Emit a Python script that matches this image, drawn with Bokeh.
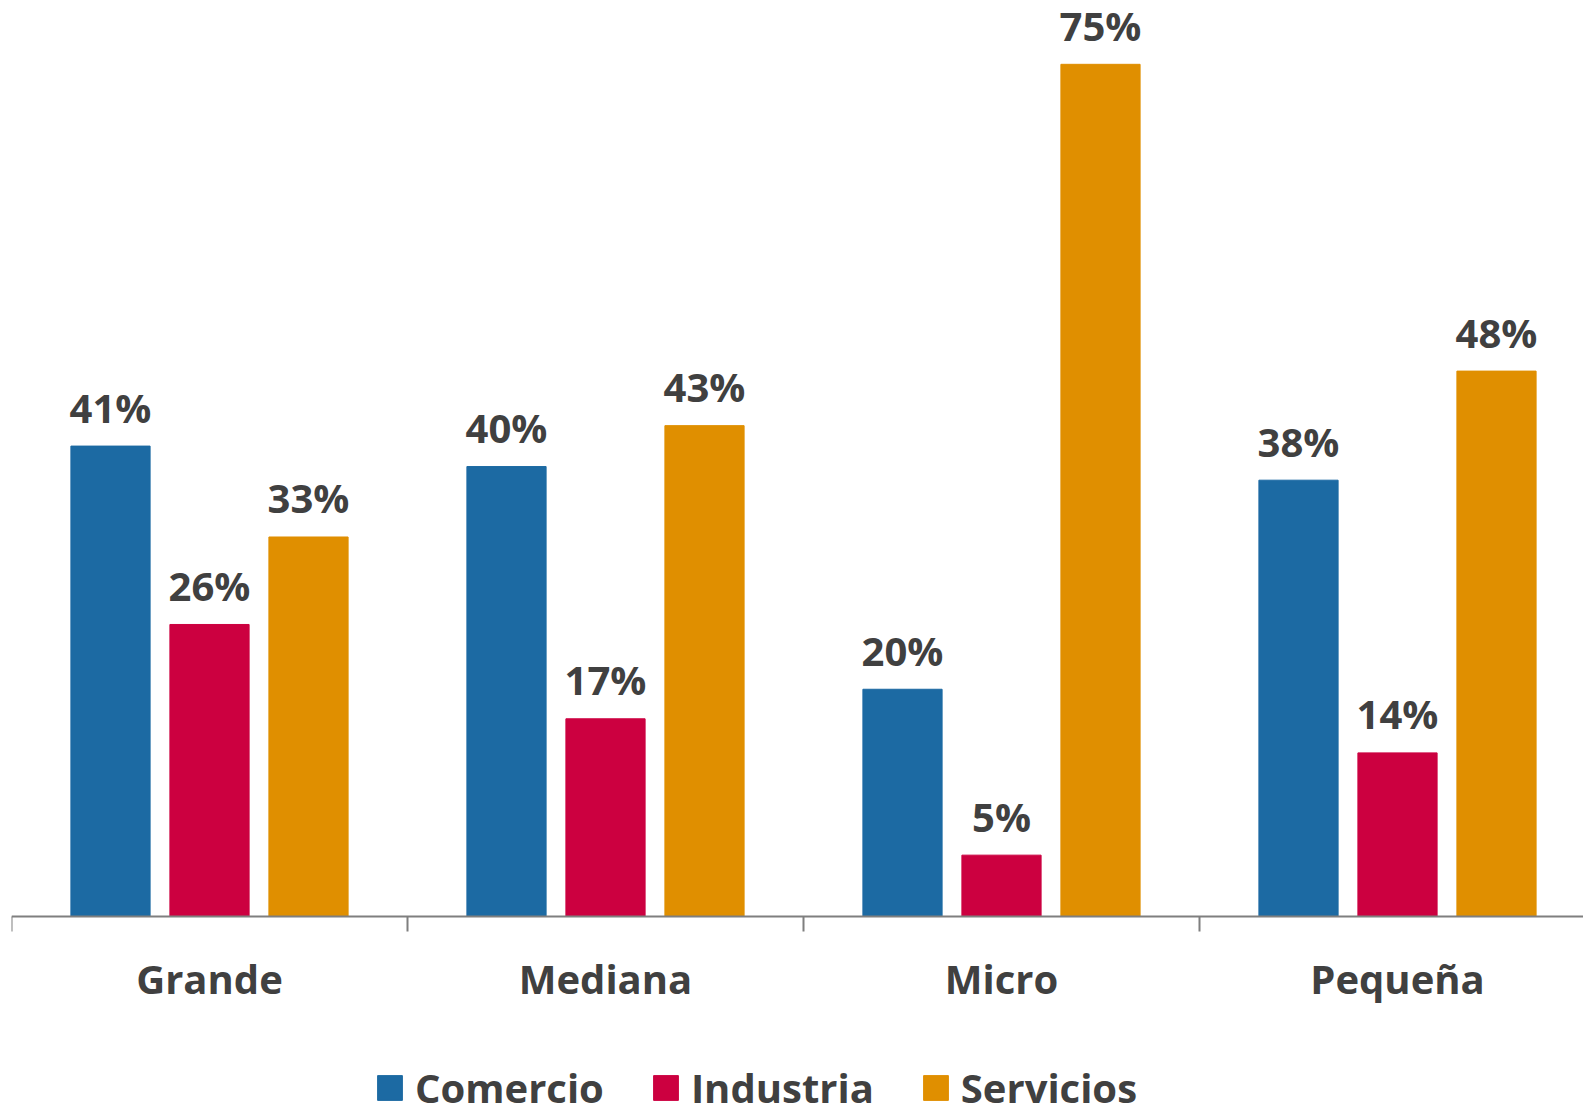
from bokeh.plotting import figure
from bokeh.models import Range1d, FixedTicker, Legend, LegendItem, ColumnDataSource
from bokeh.core.properties import value
from bokeh.embed import file_html
from bokeh.resources import INLINE

categories = ["Grande", "Mediana", "Micro", "Pequeña"]
series_names = ["Comercio", "Industria", "Servicios"]
comercio = [41.4, 39.6, 20.0, 38.4]
industria = [25.7, 17.4, 5.4, 14.4]
servicios = [33.4, 43.2, 75.0, 48.0]
colors = ["#1C6AA3", "#CC0040", "#E08F00"]

FONT = "Open Sans"
TXT = "#404040"

FW = 1572
FH = 1107
AXIS_Y = 916          # canvas pixel row of the zero line
PX_PER_UNIT = 909 / 80.0
p = figure(frame_width=FW, frame_height=FH, output_backend="svg", toolbar_location=None,
           x_range=Range1d(0, FW / 396),
           y_range=Range1d(-(FH - AXIS_Y) / PX_PER_UNIT, AXIS_Y / PX_PER_UNIT),
           min_border_left=11, min_border_right=0, min_border_top=0, min_border_bottom=0)
p.background_fill_color = "white"
p.border_fill_color = "white"
p.outline_line_color = None
p.grid.visible = False
p.yaxis.visible = False

offsets = [-0.25, 0.0, 0.25]
items = []
for name, vals, col, off in zip(series_names, [comercio, industria, servicios], colors, offsets):
    xs = [i + 0.5 + off for i in range(len(categories))]
    src = ColumnDataSource(dict(x=xs, top=vals, lab=["%d%%" % round(v) for v in vals]))
    r = p.vbar(x="x", top="top", bottom=0, width=0.2, source=src,
               fill_color=col, line_color=col, line_width=1)
    p.text(x="x", y="top", text="lab", source=src, text_align="center",
           text_baseline="alphabetic", y_offset=-39,
           text_font=value(FONT), text_font_style="bold", text_font_size="40px",
           text_color=TXT)
    items.append(LegendItem(label=name, renderers=[r]))

ax = p.xaxis[0]
ax.fixed_location = 0
ax.ticker = FixedTicker(ticks=[i + 0.5 for i in range(len(categories))],
                        minor_ticks=list(range(len(categories) + 1)))
ax.major_label_overrides = {i + 0.5: c for i, c in enumerate(categories)}
ax.major_tick_out = 0
ax.major_tick_in = 0
ax.minor_tick_out = 15
ax.minor_tick_in = 0
ax.minor_tick_line_color = "#7F7F7F"
ax.minor_tick_line_width = 2
ax.axis_line_color = "#7F7F7F"
ax.axis_line_width = 2
ax.major_label_standoff = 19
ax.major_label_text_font = FONT
ax.major_label_text_font_style = "bold"
ax.major_label_text_font_size = "40px"
ax.major_label_text_color = TXT

legend = Legend(items=items, orientation="horizontal", location=(363, -8),
                label_text_font=FONT, label_text_font_style="bold",
                label_text_font_size="40px", label_text_color=TXT,
                glyph_width=31, glyph_height=31, label_standoff=10, spacing=46,
                border_line_color=None, background_fill_alpha=0,
                padding=0, margin=0)
legend.label_height = 31
p.add_layout(legend, "center")

open("out.html", "w").write(file_html(p, INLINE))
